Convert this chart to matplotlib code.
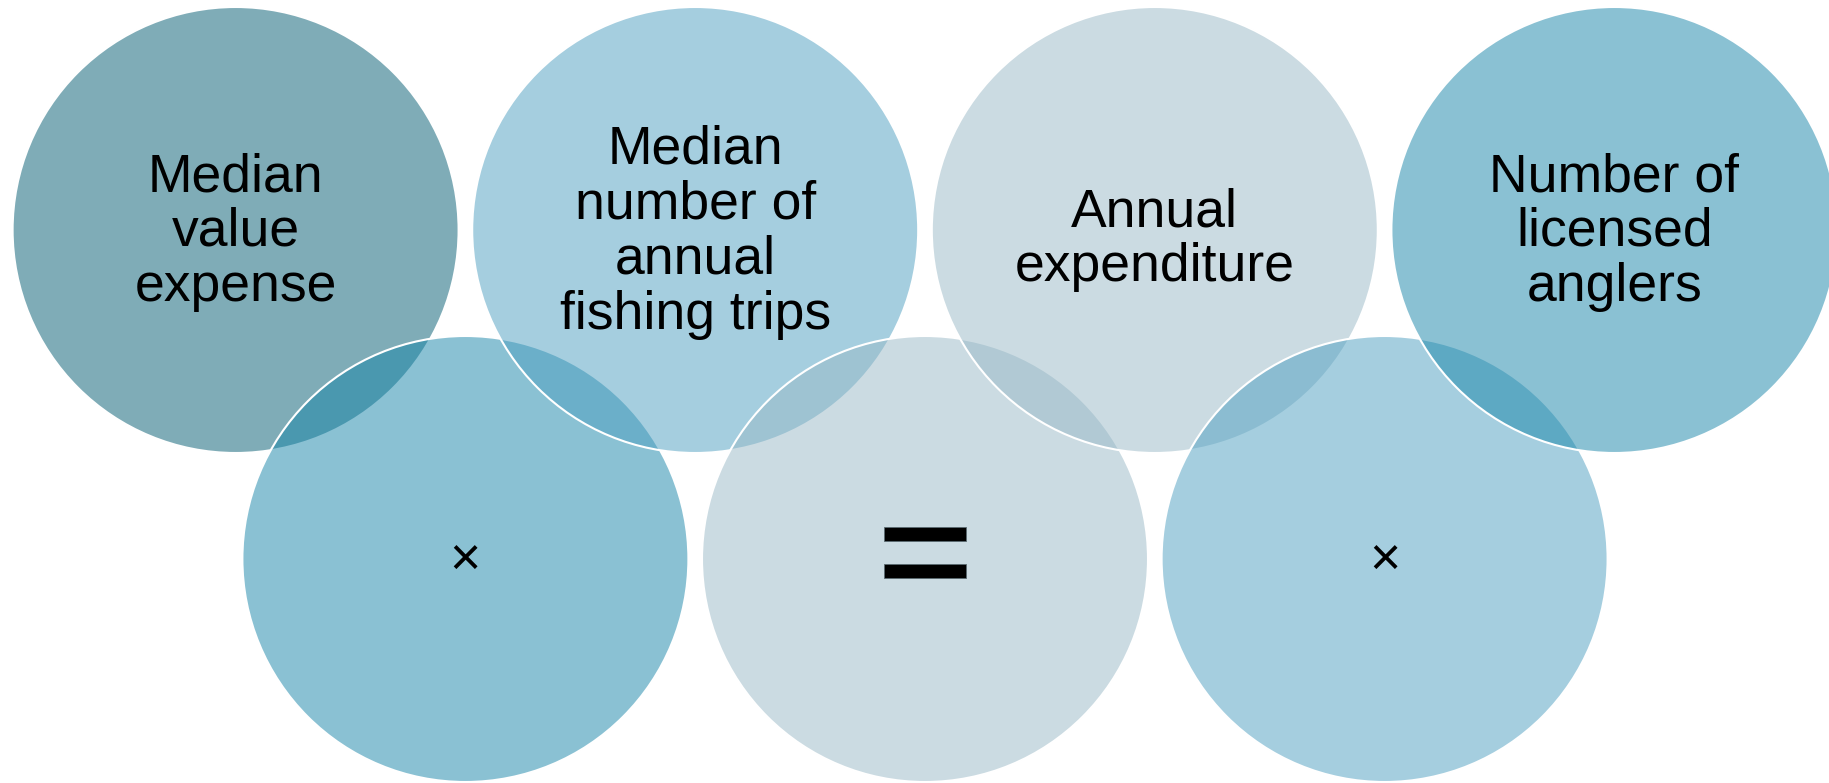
import matplotlib.pyplot as plt
from matplotlib.patches import Circle, Rectangle

plt.rcParams['font.family'] = ['Liberation Sans', 'DejaVu Sans']

# upper row: the quantities, lower row: the operators between them
top_labels = ['Median\nvalue\nexpense',
              'Median\nnumber of\nannual\nfishing trips',
              'Annual\nexpenditure',
              'Number of\nlicensed\nanglers']
bottom_ops = ['×', '=', '×']
top_colors = ['#005B71', '#4D9FC1', '#99B9C7', '#1785A9']
bottom_colors = ['#1785A9', '#99B9C7', '#4D9FC1']

W, H = 1829, 783
R = 223
x0, step = 235.6, 459.6
y_top, y_bot = 230, 559
fs_px = 53.5                 # font em size in pixels
fs = fs_px * 72 / 100        # -> points at dpi 100
line_h = 55
text_shift = [16, 16, 24, 16]   # baseline centre below circle centre

fig = plt.figure(figsize=(W / 100, H / 100), dpi=100)
ax = fig.add_axes([0, 0, 1, 1])
ax.set_xlim(0, W)
ax.set_ylim(H, 0)
ax.axis('off')


def add_circle(cx, cy, color):
    ax.add_patch(Circle((cx, cy), R, facecolor=color, edgecolor='none', alpha=0.5))
    ax.add_patch(Circle((cx, cy), R, facecolor='none', edgecolor='white', lw=1.5))


# alternate top / bottom so every circle overlaps the previous one
for i in range(len(top_labels)):
    cx = x0 + i * step
    add_circle(cx, y_top, top_colors[i])
    if i < len(bottom_ops):
        add_circle(cx + step / 2, y_bot, bottom_colors[i])

# labels, one line at a time so the baselines are evenly spaced
for i, lab in enumerate(top_labels):
    cx = x0 + i * step
    lines = lab.split('\n')
    mid = y_top + text_shift[i]
    for j, ln in enumerate(lines):
        yb = mid + (j - (len(lines) - 1) / 2) * line_h
        ax.text(cx, yb, ln, ha='center', va='baseline', fontsize=fs, color='black')

for i, op in enumerate(bottom_ops):
    cx = x0 + step / 2 + i * step
    if op == '=':
        bw, bh, gap = 82, 14, 23
        cy = y_bot - 7
        for dy in (-(gap / 2 + bh), gap / 2):
            ax.add_patch(Rectangle((cx - bw / 2, cy + dy), bw, bh,
                                   facecolor='black', edgecolor='#5a6a70', lw=0.6))
    else:
        ax.text(cx, y_bot - 2 + 0.35 * fs_px, op, ha='center', va='baseline',
                fontsize=fs, color='black')

fig.savefig('out.png', dpi=100)
